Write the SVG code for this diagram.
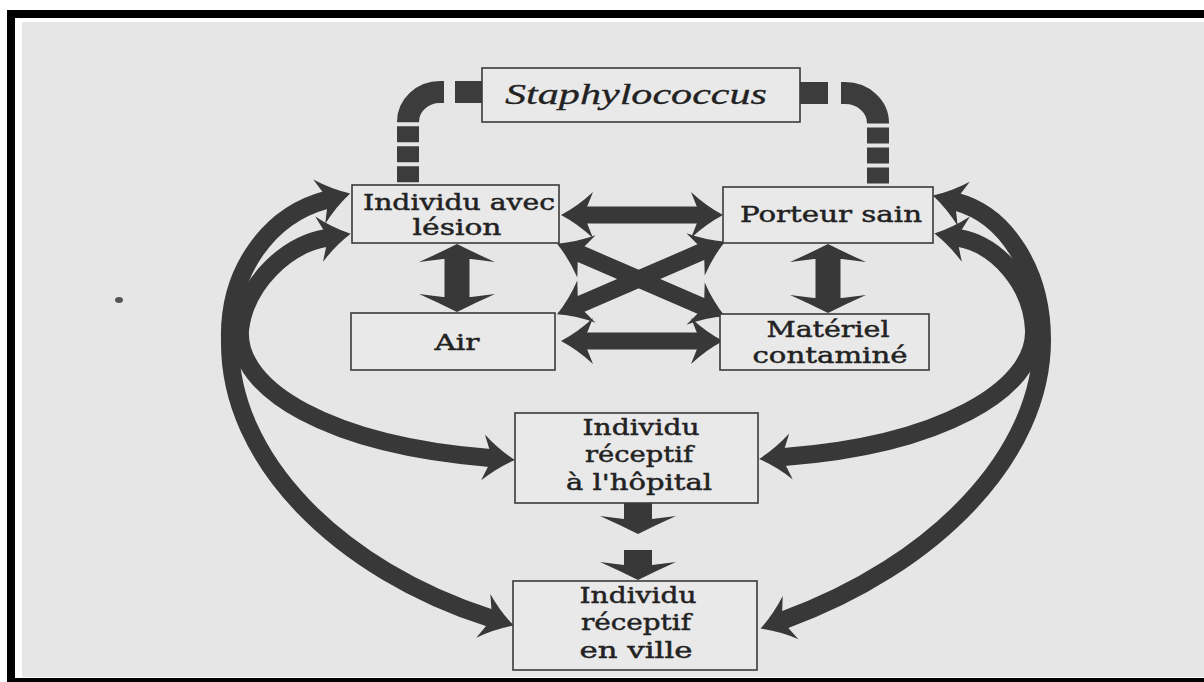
<svg xmlns="http://www.w3.org/2000/svg" width="1204" height="682" viewBox="0 0 1204 682">
<style>
.box{fill:#e9e9e9;stroke:#3a3a3a;stroke-width:1.6}
.t{font-family:"DejaVu Serif","Liberation Serif",serif;font-size:22px;fill:#222;stroke:#222;stroke-width:0.45;text-anchor:middle}
.ti{font-family:"Liberation Serif","DejaVu Serif",serif;font-style:italic;font-size:29px;fill:#222;stroke:#222;stroke-width:0.3;text-anchor:middle}
.dash{fill:none;stroke:#3c3c3c;stroke-width:22}
.cur{fill:none;stroke:#383838;stroke-width:18;marker-start:url(#mA);marker-end:url(#mA)}
.dbl{fill:none;stroke:#383838;stroke-width:17;marker-start:url(#mA);marker-end:url(#mA)}
.ver{fill:none;stroke:#383838;stroke-width:25;marker-start:url(#mW);marker-end:url(#mW)}
.dn{fill:none;stroke:#383838;stroke-width:28;marker-end:url(#mW)}
</style>
<defs>
<marker id="mA" markerUnits="userSpaceOnUse" markerWidth="60" markerHeight="60" refX="0" refY="0" orient="auto-start-reverse" overflow="visible">
<path d="M25,0 Q8,-9 -7,-23 L-1,-8 L-1,8 L-7,23 Q8,9 25,0 Z" fill="#383838"/>
</marker>
<marker id="mW" markerUnits="userSpaceOnUse" markerWidth="90" markerHeight="90" refX="0" refY="0" orient="auto-start-reverse" overflow="visible">
<path d="M14,0 Q4,-20 -4,-38 L-1,-14 L-1,14 L-4,38 Q4,20 14,0 Z" fill="#383838"/>
</marker>
</defs>
<rect x="0" y="0" width="1204" height="682" fill="#ffffff"/>
<rect x="7" y="10" width="1197" height="672" fill="#000000"/>
<rect x="15" y="18" width="1189" height="660" fill="#ffffff"/>
<rect x="22" y="22" width="1182" height="655" fill="#e6e6e6"/>
<ellipse cx="119" cy="300" rx="4" ry="3" fill="#555"/>

<g id="connectors">
<path class="dash" d="M482 92 H440 A32 30 0 0 0 408 122 V186" stroke-dasharray="27 11 53 4 16 4 16 4 16 4 40"/>
<path class="dash" d="M800 93 H845 A33 30 0 0 1 878 123 V187" stroke-dasharray="28 13 54 4 16 4 16 4 16 4 40"/>
<path class="dbl" d="M586 215 H698"/>
<path class="dbl" d="M586 341 H698"/>
<path class="dbl" d="M580 253.6 L702 306.4"/>
<path class="dbl" d="M580 304.4 L702 251.6"/>
<path class="ver" d="M457 258 V298"/>
<path class="ver" d="M828 258 V299"/>
<path class="dn" d="M638 503 V520"/>
<path class="dn" d="M638 550 V566"/>
<path class="cur" d="M326 200 C270 215 228 270 230 340 C228 460 340 570 490 618"/>
<path class="cur" d="M326 238 C285 245 245 285 240 330 C236 390 330 445 490 458"/>
<path class="cur" d="M957 202 C1005 215 1042 270 1042 340 C1042 455 935 565 784 620"/>
<path class="cur" d="M959 238 C998 245 1032 285 1034 330 C1036 390 940 445 784 457"/>
</g>

<g id="staphylococcus">
<rect class="box" x="482" y="68" width="318" height="54"/>
<text class="ti" x="636" y="104" textLength="262" lengthAdjust="spacingAndGlyphs">Staphylococcus</text>
</g>
<g id="individu-lesion">
<rect class="box" x="352" y="185" width="207" height="58"/>
<text class="t" x="459" y="210" textLength="192" lengthAdjust="spacingAndGlyphs">Individu avec</text>
<text class="t" x="457" y="235" textLength="89" lengthAdjust="spacingAndGlyphs">lésion</text>
</g>
<g id="porteur-sain">
<rect class="box" x="723" y="187" width="210" height="56"/>
<text class="t" x="831" y="222" textLength="182" lengthAdjust="spacingAndGlyphs">Porteur sain</text>
</g>
<g id="air">
<rect class="box" x="351" y="313" width="204" height="57"/>
<text class="t" x="457" y="350" textLength="45" lengthAdjust="spacingAndGlyphs">Air</text>
</g>
<g id="materiel">
<rect class="box" x="720" y="314" width="209" height="56"/>
<text class="t" x="828" y="337" textLength="123" lengthAdjust="spacingAndGlyphs">Matériel</text>
<text class="t" x="830" y="363" textLength="155" lengthAdjust="spacingAndGlyphs">contaminé</text>
</g>
<g id="hopital">
<rect class="box" x="515" y="413" width="243" height="90"/>
<text class="t" x="641" y="435" textLength="117" lengthAdjust="spacingAndGlyphs">Individu</text>
<text class="t" x="639" y="462" textLength="108" lengthAdjust="spacingAndGlyphs">réceptif</text>
<text class="t" x="639" y="490" textLength="146" lengthAdjust="spacingAndGlyphs">à l'hôpital</text>
</g>
<g id="ville">
<rect class="box" x="513" y="581" width="244" height="89"/>
<text class="t" x="638" y="603" textLength="117" lengthAdjust="spacingAndGlyphs">Individu</text>
<text class="t" x="636" y="630" textLength="110" lengthAdjust="spacingAndGlyphs">réceptif</text>
<text class="t" x="636" y="658" textLength="113" lengthAdjust="spacingAndGlyphs">en ville</text>
</g>
</svg>
